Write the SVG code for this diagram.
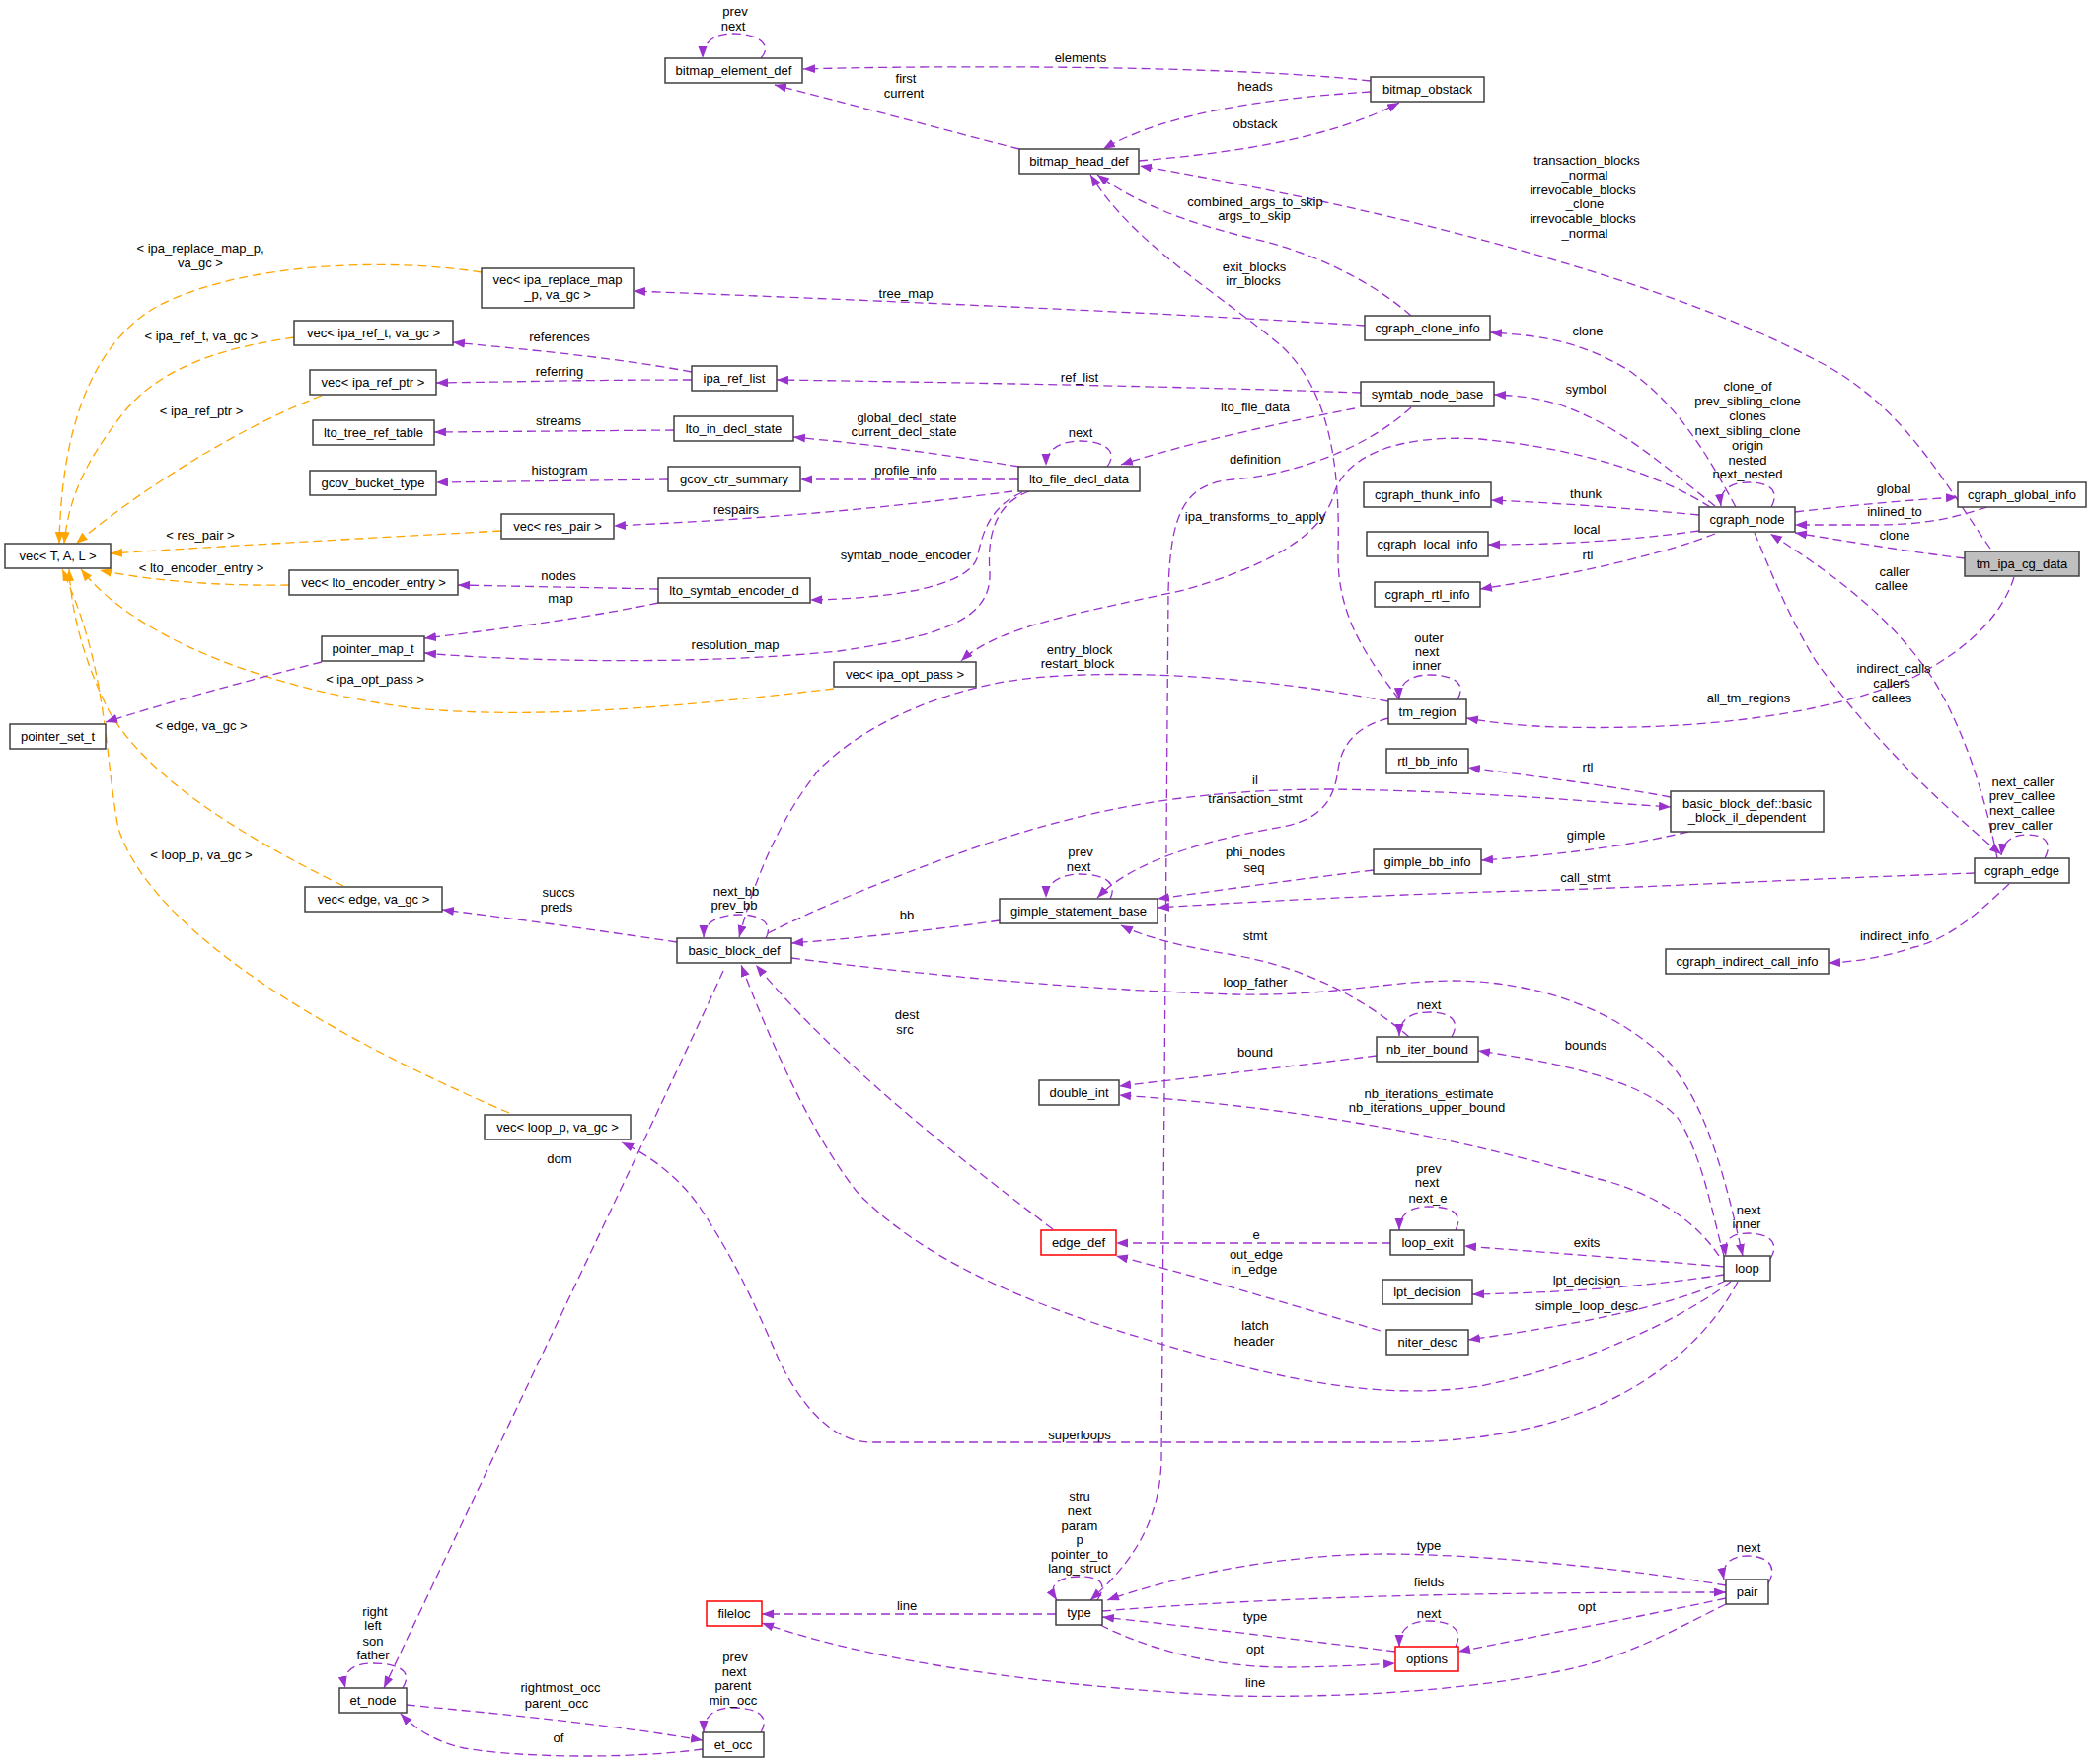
<svg xmlns="http://www.w3.org/2000/svg" width="2120" height="1788" viewBox="0 0 2120 1788">
<defs>
<marker id="ap" markerUnits="userSpaceOnUse" markerWidth="13" markerHeight="10" refX="12" refY="4.5" orient="auto"><path d="M0,0 L12,4.5 L0,9 z" fill="#9a32cd"/></marker>
<marker id="ao" markerUnits="userSpaceOnUse" markerWidth="13" markerHeight="10" refX="12" refY="4.5" orient="auto"><path d="M0,0 L12,4.5 L0,9 z" fill="#ffa500"/></marker>
<style>
text{font-family:"Liberation Sans",Arial,sans-serif;font-size:13px;text-anchor:middle;fill:#000}
.n rect{fill:#fff;stroke:#404040;stroke-width:1.5}
.r rect{stroke:#ff0000}
.g rect{fill:#bfbfbf}
#edges path{fill:none;stroke:#9a32cd;stroke-width:1.3;stroke-dasharray:9,5;marker-end:url(#ap)}
#edges path.o{stroke:#ffa500;marker-end:url(#ao)}
</style>
</defs>
<rect width="2120" height="1788" fill="#fff"/>
<g id="edges">
<path class="o" d="M488,276 C400,262 250,264 160,310 C90,350 62,440 60,551"/>
<path class="o" d="M298,342 C230,352 160,370 120,425 C90,465 70,500 65,551"/>
<path class="o" d="M326,401 C250,430 150,490 77,551"/>
<path class="o" d="M508,538 C400,544 250,552 112,561"/>
<path class="o" d="M293,593 C230,594 160,590 101,578"/>
<path class="o" d="M845,698 C700,715 550,730 420,718 C280,700 140,650 82,577"/>
<path class="o" d="M348,898 C250,850 150,790 110,720 C85,670 72,620 70,577"/>
<path class="o" d="M516,1128 C380,1070 160,960 120,840 C105,760 110,680 63,577"/>
<path d="M771,59 C785,44 765,34 743,34 C722,34 712,44 712,59"/>
<path d="M1389,82 C1250,66 950,66 814,70"/>
<path d="M1033,151 C950,130 860,105 785,86"/>
<path d="M1389,93 C1280,100 1180,115 1118,151"/>
<path d="M1154,163 C1250,155 1350,140 1418,104"/>
<path d="M2017,556 C1970,490 1930,410 1840,365 C1700,290 1450,220 1155,168"/>
<path d="M1430,320 C1390,285 1330,255 1266,241 C1200,225 1150,205 1112,177"/>
<path d="M1418,709 C1380,660 1355,620 1356,560 C1358,480 1350,400 1300,352 C1240,300 1150,250 1105,177"/>
<path d="M1383,330 C1200,318 900,305 642,295"/>
<path d="M701,377 C620,362 540,355 459,347"/>
<path d="M701,385 C600,385 520,387 442,388"/>
<path d="M1379,398 C1200,392 1000,388 787,385"/>
<path d="M683,436 L440,438"/>
<path d="M1033,473 C950,460 880,450 804,443"/>
<path d="M677,486 L442,489"/>
<path d="M1032,486 L811,486"/>
<path d="M1122,473 C1135,455 1115,447 1095,447 C1075,447 1060,455 1060,472"/>
<path d="M1373,414 C1300,428 1200,450 1136,471"/>
<path d="M1026,498 C920,512 800,525 622,533"/>
<path d="M667,597 L464,593"/>
<path d="M1036,499 C1000,515 995,545 990,566 C980,595 900,607 821,608"/>
<path d="M1043,498 C1010,510 1000,540 1003,580 C1005,630 950,645 850,660 C700,675 520,670 430,662"/>
<path d="M667,611 C600,625 530,635 430,647"/>
<path d="M326,671 C250,690 170,712 107,732"/>
<path d="M1430,413 C1390,450 1320,480 1250,486 C1200,490 1186,520 1184,600 L1177,1480 C1175,1550 1140,1590 1105,1622"/>
<path d="M1733,514 C1680,480 1600,455 1500,445 C1420,440 1365,460 1352,500 C1340,545 1280,575 1200,598 C1100,620 1010,635 974,670"/>
<path d="M1759,514 C1730,460 1700,410 1650,375 C1600,345 1560,340 1510,337"/>
<path d="M1738,513 C1690,475 1640,430 1580,410 C1560,404 1540,401 1514,400"/>
<path d="M1795,514 C1805,495 1790,489 1772,489 C1752,489 1742,498 1744,513"/>
<path d="M1722,522 C1650,515 1580,510 1511,507"/>
<path d="M1722,538 C1650,548 1580,552 1508,552"/>
<path d="M1738,541 C1690,560 1600,582 1500,597"/>
<path d="M1819,519 C1880,512 1930,507 1984,504"/>
<path d="M2014,514 C1980,525 1950,532 1900,532 C1870,532 1840,532 1819,532"/>
<path d="M1991,566 C1940,560 1880,550 1819,540"/>
<path d="M2024,870 C2010,800 1990,740 1960,690 C1920,630 1870,590 1794,541"/>
<path d="M1778,540 C1795,580 1810,620 1840,670 C1890,740 1960,810 2028,866"/>
<path d="M2041,585 C2030,620 2000,655 1940,686 C1840,730 1700,740 1580,737 C1540,736 1510,732 1486,728"/>
<path d="M2072,870 C2082,852 2068,846 2055,846 C2040,846 2030,852 2028,867"/>
<path d="M2001,885 C1850,890 1650,900 1580,902 C1450,905 1300,912 1173,920"/>
<path d="M2036,896 C2010,920 1980,950 1940,960 C1910,970 1880,975 1853,976"/>
<path d="M1693,808 C1640,798 1580,790 1488,778"/>
<path d="M1711,843 C1660,855 1600,865 1501,872"/>
<path d="M778,946 C830,920 900,890 1000,855 C1100,822 1200,800 1350,800 C1500,802 1600,812 1693,818"/>
<path d="M1392,882 C1300,893 1240,902 1173,911"/>
<path d="M1125,911 C1135,890 1110,886 1094,886 C1075,886 1060,895 1060,910"/>
<path d="M1407,728 C1380,735 1360,750 1356,780 C1352,810 1340,830 1300,838 C1230,850 1150,870 1112,910"/>
<path d="M1428,1051 C1380,1010 1320,980 1250,968 C1200,960 1160,950 1136,938"/>
<path d="M1013,933 C950,942 880,950 802,956"/>
<path d="M776,951 C785,935 768,927 750,927 C728,927 713,935 713,950"/>
<path d="M1407,711 C1300,690 1170,678 1060,686 C970,692 880,730 830,780 C790,830 765,890 749,950"/>
<path d="M802,971 C950,990 1100,1003 1250,1008 C1350,1010 1400,995 1470,994 C1560,994 1640,1025 1690,1075 C1730,1120 1750,1200 1766,1273"/>
<path d="M1395,1070 C1300,1082 1200,1093 1134,1101"/>
<path d="M1471,1051 C1482,1032 1465,1026 1449,1026 C1430,1026 1418,1033 1418,1050"/>
<path d="M1747,1273 C1735,1230 1725,1170 1700,1133 C1670,1100 1600,1080 1498,1065"/>
<path d="M1742,1273 C1720,1240 1680,1210 1620,1195 C1500,1160 1350,1125 1134,1110"/>
<path d="M1794,1276 C1805,1258 1790,1250 1772,1250 C1755,1250 1746,1256 1749,1273"/>
<path d="M1747,1284 C1680,1278 1600,1272 1484,1263"/>
<path d="M1747,1292 C1680,1302 1600,1310 1492,1312"/>
<path d="M1749,1298 C1700,1320 1620,1340 1488,1358"/>
<path d="M1754,1299 C1700,1340 1600,1385 1500,1405 C1400,1420 1300,1400 1163,1358 C1000,1310 920,1260 870,1210 C830,1160 790,1080 751,978"/>
<path d="M1761,1299 C1730,1360 1660,1420 1560,1445 C1500,1460 1450,1462 1400,1462 L880,1462 C840,1460 810,1420 790,1380 C760,1310 740,1270 710,1225 C690,1195 660,1172 630,1158"/>
<path d="M686,955 C620,945 550,935 448,922"/>
<path d="M733,984 C680,1100 560,1350 389,1711"/>
<path d="M1067,1246 C980,1180 850,1080 766,978"/>
<path d="M1409,1260 L1131,1260"/>
<path d="M1399,1349 C1300,1320 1200,1290 1131,1273"/>
<path d="M1475,1247 C1485,1228 1467,1223 1448,1223 C1430,1223 1418,1230 1418,1247"/>
<path d="M1112,1622 C1125,1602 1110,1598 1094,1598 C1075,1598 1060,1605 1071,1622"/>
<path d="M1749,1607 C1650,1590 1500,1575 1400,1575 C1300,1576 1200,1595 1122,1622"/>
<path d="M1117,1633 C1300,1618 1500,1614 1749,1614"/>
<path d="M1414,1674 C1300,1660 1200,1648 1117,1639"/>
<path d="M1115,1647 C1170,1675 1240,1690 1300,1690 C1340,1690 1380,1688 1414,1686"/>
<path d="M1475,1669 C1485,1650 1467,1643 1448,1643 C1430,1643 1418,1650 1418,1669"/>
<path d="M1749,1620 C1680,1635 1600,1650 1478,1674"/>
<path d="M1792,1605 C1803,1585 1788,1577 1771,1577 C1755,1577 1744,1585 1747,1601"/>
<path d="M1070,1636 L772,1636"/>
<path d="M1749,1626 C1700,1650 1650,1680 1580,1694 C1480,1715 1350,1721 1250,1719 C1100,1712 900,1690 772,1645"/>
<path d="M408,1711 C420,1692 400,1686 378,1686 C358,1686 346,1694 350,1711"/>
<path d="M412,1728 C480,1735 600,1745 712,1764"/>
<path d="M712,1773 C640,1783 530,1782 470,1772 C440,1765 420,1752 406,1737"/>
<path d="M771,1756 C782,1737 763,1731 743,1731 C725,1731 713,1738 713,1756"/>
<path d="M1477,709 C1488,690 1468,684 1449,684 C1430,684 1417,692 1418,709"/>
</g>
<g id="edge-labels">
<text x="203" y="256">&lt; ipa_replace_map_p,</text><text x="203" y="271">va_gc &gt;</text>
<text x="204" y="345">&lt; ipa_ref_t, va_gc &gt;</text>
<text x="204" y="421">&lt; ipa_ref_ptr &gt;</text>
<text x="203" y="547">&lt; res_pair &gt;</text>
<text x="204" y="580">&lt; lto_encoder_entry &gt;</text>
<text x="380" y="693">&lt; ipa_opt_pass &gt;</text>
<text x="204" y="740">&lt; edge, va_gc &gt;</text>
<text x="204" y="871">&lt; loop_p, va_gc &gt;</text>
<text x="745" y="16">prev</text><text x="743" y="31">next</text>
<text x="1095" y="63">elements</text>
<text x="918" y="84">first</text><text x="916" y="99">current</text>
<text x="1272" y="92">heads</text>
<text x="1272" y="130">obstack</text>
<text x="1608" y="167">transaction_blocks</text><text x="1606" y="182">_normal</text><text x="1604" y="197">irrevocable_blocks</text><text x="1606" y="211">_clone</text><text x="1604" y="226">irrevocable_blocks</text><text x="1606" y="241">_normal</text>
<text x="1272" y="209">combined_args_to_skip</text><text x="1271" y="223">args_to_skip</text>
<text x="1271" y="275">exit_blocks</text><text x="1270" y="289">irr_blocks</text>
<text x="918" y="302">tree_map</text>
<text x="1609" y="340">clone</text>
<text x="567" y="346">references</text>
<text x="567" y="381">referring</text>
<text x="1094" y="387">ref_list</text>
<text x="1607" y="399">symbol</text>
<text x="1771" y="396">clone_of</text><text x="1771" y="411">prev_sibling_clone</text><text x="1771" y="426">clones</text><text x="1771" y="441">next_sibling_clone</text><text x="1771" y="456">origin</text><text x="1771" y="471">nested</text><text x="1771" y="485">next_nested</text>
<text x="1272" y="417">lto_file_data</text>
<text x="566" y="431">streams</text>
<text x="919" y="428">global_decl_state</text><text x="916" y="442">current_decl_state</text>
<text x="1095" y="443">next</text>
<text x="567" y="481">histogram</text>
<text x="918" y="481">profile_info</text>
<text x="1272" y="470">definition</text>
<text x="1607" y="505">thunk</text>
<text x="1919" y="500">global</text>
<text x="1920" y="523">inlined_to</text>
<text x="746" y="521">respairs</text>
<text x="1272" y="528">ipa_transforms_to_apply</text>
<text x="1608" y="541">local</text>
<text x="1920" y="547">clone</text>
<text x="1609" y="567">rtl</text>
<text x="918" y="567">symtab_node_encoder</text>
<text x="1920" y="584">caller</text><text x="1917" y="598">callee</text>
<text x="566" y="588">nodes</text>
<text x="568" y="611">map</text>
<text x="745" y="658">resolution_map</text>
<text x="1448" y="651">outer</text><text x="1446" y="665">next</text><text x="1446" y="679">inner</text>
<text x="1094" y="663">entry_block</text><text x="1092" y="677">restart_block</text>
<text x="1919" y="682">indirect_calls</text><text x="1917" y="697">callers</text><text x="1917" y="712">callees</text>
<text x="1772" y="712">all_tm_regions</text>
<text x="1609" y="782">rtl</text>
<text x="1272" y="795">il</text>
<text x="2050" y="797">next_caller</text><text x="2049" y="811">prev_callee</text><text x="2049" y="826">next_callee</text><text x="2048" y="841">prev_caller</text>
<text x="1272" y="814">transaction_stmt</text>
<text x="1607" y="851">gimple</text>
<text x="1095" y="868">prev</text><text x="1093" y="883">next</text>
<text x="1272" y="868">phi_nodes</text><text x="1271" y="884">seq</text>
<text x="1607" y="894">call_stmt</text>
<text x="746" y="908">next_bb</text><text x="744" y="922">prev_bb</text>
<text x="566" y="909">succs</text><text x="564" y="924">preds</text>
<text x="919" y="932">bb</text>
<text x="1272" y="953">stmt</text>
<text x="1920" y="953">indirect_info</text>
<text x="1272" y="1000">loop_father</text>
<text x="1448" y="1023">next</text>
<text x="919" y="1033">dest</text><text x="917" y="1048">src</text>
<text x="1272" y="1071">bound</text>
<text x="1607" y="1064">bounds</text>
<text x="1448" y="1113">nb_iterations_estimate</text><text x="1446" y="1127">nb_iterations_upper_bound</text>
<text x="567" y="1179">dom</text>
<text x="1448" y="1189">prev</text><text x="1446" y="1203">next</text><text x="1447" y="1219">next_e</text>
<text x="1772" y="1231">next</text><text x="1770" y="1245">inner</text>
<text x="1273" y="1256">e</text>
<text x="1608" y="1264">exits</text>
<text x="1273" y="1276">out_edge</text><text x="1271" y="1291">in_edge</text>
<text x="1608" y="1302">lpt_decision</text>
<text x="1608" y="1328">simple_loop_desc</text>
<text x="1272" y="1348">latch</text><text x="1271" y="1364">header</text>
<text x="1094" y="1459">superloops</text>
<text x="1094" y="1521">stru</text><text x="1094" y="1536">next</text><text x="1094" y="1551">param</text><text x="1094" y="1565">p</text><text x="1094" y="1580">pointer_to</text><text x="1094" y="1594">lang_struct</text>
<text x="1448" y="1571">type</text>
<text x="1772" y="1573">next</text>
<text x="1448" y="1608">fields</text>
<text x="919" y="1632">line</text>
<text x="1608" y="1633">opt</text>
<text x="1448" y="1640">next</text>
<text x="1272" y="1643">type</text>
<text x="1272" y="1676">opt</text>
<text x="1272" y="1710">line</text>
<text x="380" y="1638">right</text><text x="378" y="1652">left</text><text x="378" y="1668">son</text><text x="378" y="1682">father</text>
<text x="745" y="1684">prev</text><text x="744" y="1699">next</text><text x="743" y="1713">parent</text><text x="743" y="1728">min_occ</text>
<text x="568" y="1715">rightmost_occ</text><text x="564" y="1731">parent_occ</text>
<text x="566" y="1766">of</text>
</g>
<g id="n_vecTAL" class="n"><rect x="5" y="551" width="107" height="25"/><text x="58.5" y="568">vec&lt; T, A, L &gt;</text></g>
<g id="n_vec_replace_map" class="n"><rect x="488" y="272" width="154" height="40"/><text x="565" y="288">vec&lt; ipa_replace_map</text><text x="565" y="303">_p, va_gc &gt;</text></g>
<g id="n_vec_ipa_ref_t" class="n"><rect x="298" y="325" width="161" height="25"/><text x="378.5" y="342">vec&lt; ipa_ref_t, va_gc &gt;</text></g>
<g id="n_vec_ipa_ref_ptr" class="n"><rect x="314" y="375" width="128" height="25"/><text x="378" y="392">vec&lt; ipa_ref_ptr &gt;</text></g>
<g id="n_lto_tree_ref_table" class="n"><rect x="317" y="426" width="123" height="25"/><text x="378.5" y="443">lto_tree_ref_table</text></g>
<g id="n_gcov_bucket_type" class="n"><rect x="314" y="477" width="128" height="25"/><text x="378" y="494">gcov_bucket_type</text></g>
<g id="n_vec_res_pair" class="n"><rect x="508" y="521" width="114" height="25"/><text x="565" y="538">vec&lt; res_pair &gt;</text></g>
<g id="n_vec_lto_encoder_entry" class="n"><rect x="293" y="578" width="171" height="25"/><text x="378.5" y="595">vec&lt; lto_encoder_entry &gt;</text></g>
<g id="n_pointer_map_t" class="n"><rect x="326" y="645" width="104" height="25"/><text x="378" y="662">pointer_map_t</text></g>
<g id="n_pointer_set_t" class="n"><rect x="10" y="734" width="97" height="25"/><text x="58.5" y="751">pointer_set_t</text></g>
<g id="n_vec_edge" class="n"><rect x="309" y="899" width="139" height="25"/><text x="378.5" y="916">vec&lt; edge, va_gc &gt;</text></g>
<g id="n_vec_loop_p" class="n"><rect x="491" y="1130" width="148" height="25"/><text x="565" y="1147">vec&lt; loop_p, va_gc &gt;</text></g>
<g id="n_bitmap_element_def" class="n"><rect x="674" y="59" width="139" height="25"/><text x="743.5" y="76">bitmap_element_def</text></g>
<g id="n_bitmap_head_def" class="n"><rect x="1033" y="151" width="121" height="25"/><text x="1093.5" y="168">bitmap_head_def</text></g>
<g id="n_ipa_ref_list" class="n"><rect x="701" y="371" width="86" height="25"/><text x="744" y="388">ipa_ref_list</text></g>
<g id="n_lto_in_decl_state" class="n"><rect x="683" y="422" width="121" height="25"/><text x="743.5" y="439">lto_in_decl_state</text></g>
<g id="n_gcov_ctr_summary" class="n"><rect x="677" y="473" width="134" height="25"/><text x="744" y="490">gcov_ctr_summary</text></g>
<g id="n_lto_file_decl_data" class="n"><rect x="1032" y="473" width="123" height="25"/><text x="1093.5" y="490">lto_file_decl_data</text></g>
<g id="n_lto_symtab_encoder_d" class="n"><rect x="667" y="586" width="154" height="25"/><text x="744" y="603">lto_symtab_encoder_d</text></g>
<g id="n_bitmap_obstack" class="n"><rect x="1389" y="78" width="115" height="25"/><text x="1446.5" y="95">bitmap_obstack</text></g>
<g id="n_cgraph_clone_info" class="n"><rect x="1383" y="320" width="127" height="25"/><text x="1446.5" y="337">cgraph_clone_info</text></g>
<g id="n_symtab_node_base" class="n"><rect x="1379" y="387" width="135" height="25"/><text x="1446.5" y="404">symtab_node_base</text></g>
<g id="n_cgraph_thunk_info" class="n"><rect x="1382" y="489" width="129" height="25"/><text x="1446.5" y="506">cgraph_thunk_info</text></g>
<g id="n_cgraph_local_info" class="n"><rect x="1385" y="539" width="123" height="25"/><text x="1446.5" y="556">cgraph_local_info</text></g>
<g id="n_cgraph_rtl_info" class="n"><rect x="1393" y="590" width="107" height="25"/><text x="1446.5" y="607">cgraph_rtl_info</text></g>
<g id="n_cgraph_node" class="n"><rect x="1722" y="514" width="97" height="25"/><text x="1770.5" y="531">cgraph_node</text></g>
<g id="n_cgraph_global_info" class="n"><rect x="1984" y="489" width="130" height="25"/><text x="2049" y="506">cgraph_global_info</text></g>
<g id="n_tm_ipa_cg_data" class="n g"><rect x="1991" y="559" width="116" height="25"/><text x="2049" y="576">tm_ipa_cg_data</text></g>
<g id="n_vec_ipa_opt_pass" class="n"><rect x="845" y="671" width="144" height="25"/><text x="917" y="688">vec&lt; ipa_opt_pass &gt;</text></g>
<g id="n_basic_block_def" class="n"><rect x="686" y="951" width="116" height="25"/><text x="744" y="968">basic_block_def</text></g>
<g id="n_gimple_statement_base" class="n"><rect x="1013" y="911" width="160" height="25"/><text x="1093" y="928">gimple_statement_base</text></g>
<g id="n_double_int" class="n"><rect x="1053" y="1095" width="81" height="25"/><text x="1093.5" y="1112">double_int</text></g>
<g id="n_tm_region" class="n"><rect x="1407" y="709" width="79" height="25"/><text x="1446.5" y="726">tm_region</text></g>
<g id="n_rtl_bb_info" class="n"><rect x="1405" y="759" width="83" height="25"/><text x="1446.5" y="776">rtl_bb_info</text></g>
<g id="n_gimple_bb_info" class="n"><rect x="1392" y="861" width="109" height="25"/><text x="1446.5" y="878">gimple_bb_info</text></g>
<g id="n_nb_iter_bound" class="n"><rect x="1395" y="1051" width="103" height="25"/><text x="1446.5" y="1068">nb_iter_bound</text></g>
<g id="n_basic_block_il_dependent" class="n"><rect x="1693" y="802" width="155" height="41"/><text x="1770.5" y="819">basic_block_def::basic</text><text x="1770.5" y="833">_block_il_dependent</text></g>
<g id="n_cgraph_edge" class="n"><rect x="2001" y="870" width="96" height="25"/><text x="2049" y="887">cgraph_edge</text></g>
<g id="n_cgraph_indirect_call_info" class="n"><rect x="1688" y="962" width="165" height="25"/><text x="1770.5" y="979">cgraph_indirect_call_info</text></g>
<g id="n_et_node" class="n"><rect x="344" y="1711" width="68" height="25"/><text x="378" y="1728">et_node</text></g>
<g id="n_fileloc" class="n r"><rect x="716" y="1623" width="56" height="25"/><text x="744" y="1640">fileloc</text></g>
<g id="n_et_occ" class="n"><rect x="712" y="1756" width="62" height="25"/><text x="743" y="1773">et_occ</text></g>
<g id="n_edge_def" class="n r"><rect x="1055" y="1247" width="76" height="25"/><text x="1093" y="1264">edge_def</text></g>
<g id="n_loop_exit" class="n"><rect x="1409" y="1247" width="75" height="25"/><text x="1446.5" y="1264">loop_exit</text></g>
<g id="n_lpt_decision" class="n"><rect x="1401" y="1297" width="91" height="25"/><text x="1446.5" y="1314">lpt_decision</text></g>
<g id="n_niter_desc" class="n"><rect x="1405" y="1348" width="83" height="25"/><text x="1446.5" y="1365">niter_desc</text></g>
<g id="n_type" class="n"><rect x="1070" y="1622" width="47" height="25"/><text x="1093.5" y="1639">type</text></g>
<g id="n_options" class="n r"><rect x="1414" y="1669" width="64" height="25"/><text x="1446" y="1686">options</text></g>
<g id="n_loop" class="n"><rect x="1747" y="1273" width="47" height="25"/><text x="1770.5" y="1290">loop</text></g>
<g id="n_pair" class="n"><rect x="1749" y="1601" width="43" height="25"/><text x="1770.5" y="1618">pair</text></g>
</svg>
